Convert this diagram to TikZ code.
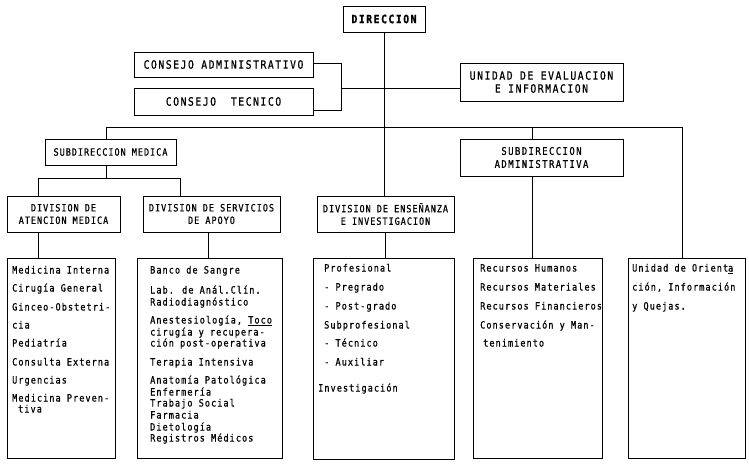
\documentclass[tikz,border=0pt]{standalone}
\usepackage{fontspec}
\newfontfamily\bigtw[FakeStretch=0.85,FakeBold=0.8,LetterSpace=13.2]{DejaVu Sans Mono}
\newfontfamily\midtw[FakeStretch=0.85,FakeBold=0.8,LetterSpace=13.6]{DejaVu Sans Mono}
\newfontfamily\divtw[FakeStretch=0.85,FakeBold=0.8,LetterSpace=9.8]{DejaVu Sans Mono}
\newfontfamily\lsttw[FakeStretch=0.85,FakeBold=0.8,LetterSpace=10.8]{DejaVu Sans Mono}
\begin{document}
\begin{tikzpicture}[x=1pt,y=-1pt,
  box/.style={draw,line width=1pt,rectangle,inner sep=0pt,align=center},
  bigt/.style={font=\fontsize{11.5}{13}\bigtw},
  midt/.style={font=\fontsize{10.5}{13}\midtw},
  divt/.style={font=\fontsize{10}{12.5}\divtw},
  lt/.style={anchor=base west,inner sep=0pt,font=\fontsize{10}{12}\lsttw},
  conn/.style={line width=1pt}]
\useasboundingbox (0,0) rectangle (749,464);
% boxes
\node[box,bigt,minimum width=82pt,minimum height=26pt] (dir) at (384,19) {\bfseries DIRECCION};
\node[box,bigt,minimum width=179pt,minimum height=25pt] (ca) at (223.5,64.5) {CONSEJO ADMINISTRATIVO};
\node[box,bigt,minimum width=179pt,minimum height=27pt] (ct) at (223.5,101.5) {CONSEJO\ \ TECNICO};
\node[box,bigt,minimum width=163pt,minimum height=38pt] (uni) at (541.5,82) {UNIDAD DE EVALUACION\\E INFORMACION};
\node[box,divt,minimum width=131pt,minimum height=26pt] (sm) at (110.5,152) {SUBDIRECCION MEDICA};
\node[box,midt,minimum width=163pt,minimum height=37pt] (sa) at (541.5,157.5) {SUBDIRECCION\\ADMINISTRATIVA};
\node[box,divt,minimum width=113pt,minimum height=36pt] (ate) at (63.5,214) {DIVISION DE\\ATENCION MEDICA};
\node[box,divt,minimum width=137pt,minimum height=36pt] (ser) at (211.5,214) {DIVISION DE SERVICIOS\\DE APOYO};
\node[box,divt,minimum width=137pt,minimum height=36pt] (ens) at (385.5,214) {DIVISION DE ENSEÑANZA\\E INVESTIGACION};
\node[box,minimum width=108pt,minimum height=200pt] (b1) at (61,358) {};
\node[box,minimum width=145pt,minimum height=200pt] (b2) at (209.5,358) {};
\node[box,minimum width=141pt,minimum height=201pt] (b3) at (383.5,358.5) {};
\node[box,minimum width=129pt,minimum height=200pt] (b4) at (537.5,358) {};
\node[box,minimum width=117pt,minimum height=200pt] (b5) at (686.5,358) {};
% connectors
\coordinate (bk) at (341,63);
\coordinate (bkb) at (341,110);
\coordinate (mid) at (341,88);
\coordinate (j1) at (106,127);
\coordinate (j2) at (682,127);
\coordinate (j3) at (532,127);
\coordinate (k) at (106,178);
\coordinate (kl) at (38,178);
\coordinate (kr) at (180,178);
\coordinate (ks) at (208,245);
\draw[conn] (dir.south) -- (dir.south |- ens.north);
\draw[conn] (ca.east |- bk) -- (bk) -- (bkb) -- (bkb -| ct.east);
\draw[conn] (mid) -- (mid -| uni.west);
\draw[conn] (j1) -- (j2);
\draw[conn] (j1) -- (j1 |- sm.north);
\draw[conn] (j3) -- (j3 |- sa.north);
\draw[conn] (j2) -- (j2 |- b5.north);
\draw[conn] (j3 |- sa.south) -- (j3 |- b4.north);
\draw[conn] (k |- sm.south) -- (k);
\draw[conn] (kl |- ate.north) -- (kl) -- (kr) -- (kr |- ser.north);
\draw[conn] (kl |- ate.south) -- (kl |- b1.north);
\draw[conn] (ks |- ser.south) -- (ks |- b2.north);
\draw[conn] (ens.south) -- (ens.south |- b3.north);
% box texts
\foreach \yy/\tt [count=\i] in {273.5/Medicina Interna, 291.5/Cirugía General, 310.5/Ginceo-Obstetri-, 328.5/cia, 346.5/Pediatría, 365.5/Consulta Externa, 383.5/Urgencias, 401.5/Medicina Preven-}
  \node[lt] (ta\i) at (12,\yy) {\tt};
\node[lt] (ta9) at (18,412.5) {tiva};
\foreach \yy/\tt [count=\i] in {273.5/Banco de Sangre, 293.5/Lab. de Anál.Clín., 305.5/Radiodiagnóstico, 323.5/{Anestesiología, \underline{Toco}}, 335.5/cirugía y recupera-, 346.5/ción post-operativa, 365.5/Terapia Intensiva, 383.5/Anatomía Patológica, 395.5/Enfermería, 406.5/Trabajo Social, 418.5/Farmacia, 430.5/Dietología, 441.5/Registros Médicos}
  \node[lt] (tb\i) at (150,\yy) {\tt};
\foreach \yy/\tt [count=\i] in {271.5/Profesional, 290.5/- Pregrado, 309.5/- Post-grado, 328.5/Subprofesional, 346.5/- Técnico, 365.5/- Auxiliar}
  \node[lt] (tc\i) at (324,\yy) {\tt};
\node[lt] (tc7) at (318,391.5) {Investigación};
\foreach \yy/\tt [count=\i] in {271.5/Recursos Humanos, 290.5/Recursos Materiales, 309.5/Recursos Financieros, 328.5/Conservación y Man-}
  \node[lt] (td\i) at (480,\yy) {\tt};
\node[lt] (td5) at (483,346.5) {tenimiento};
\node[lt] (te1) at (632,271.5) {Unidad de Orient\underline{a}};
\node[lt] (te2) at (632,290.5) {ción, Información};
\node[lt] (te3) at (632,309.5) {y Quejas.};
\end{tikzpicture}
\end{document}
